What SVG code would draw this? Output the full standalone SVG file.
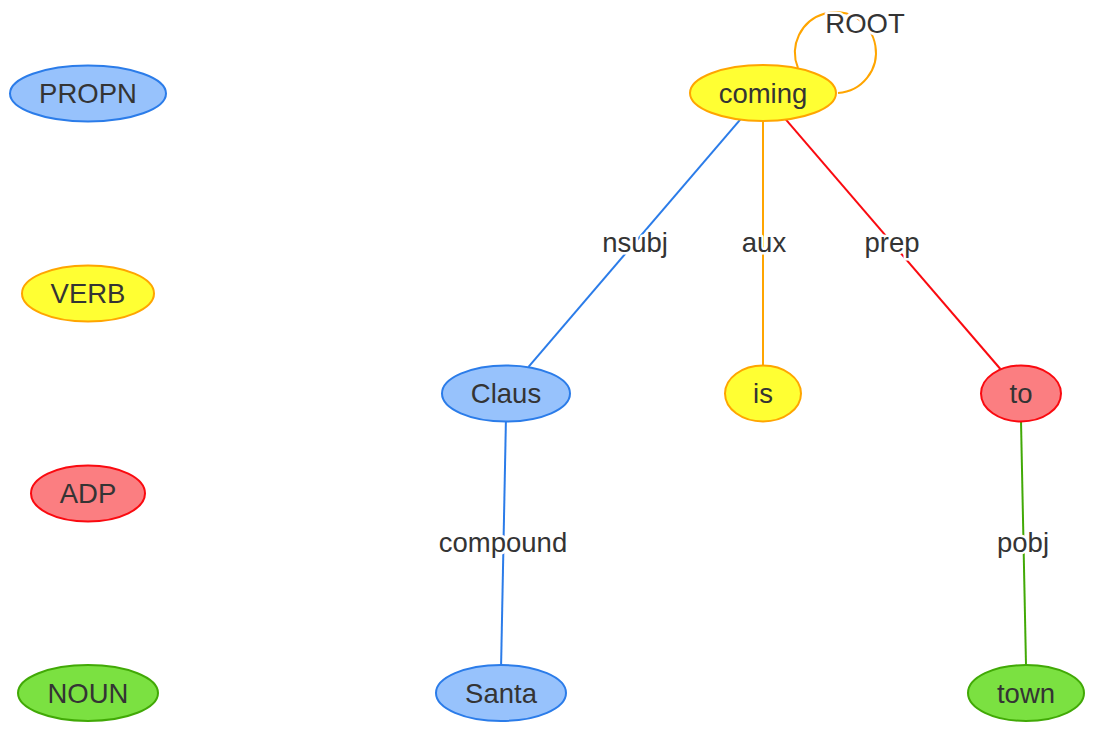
<svg xmlns="http://www.w3.org/2000/svg" width="1102" height="732" viewBox="0 0 1102 732">
<style>
text{font-family:"Liberation Sans",Arial,sans-serif;font-size:27.5px;fill:#343434;text-anchor:middle}
.lbl{stroke:#ffffff;stroke-width:5px;paint-order:stroke;stroke-linejoin:round}
.edge{fill:none;stroke-width:2}
.blue{fill:#97C2FC;stroke:#2B7CE9;stroke-width:2}
.yellow{fill:#FFFF33;stroke:#FFA500;stroke-width:2}
.red{fill:#FB7E81;stroke:#FA0A10;stroke-width:2}
.green{fill:#7BE141;stroke:#41A906;stroke-width:2}
</style>
<rect width="1102" height="732" fill="#ffffff"/>
<g id="connectors">
<g id="e-root"><path class="edge" stroke="#FFA500" d="M 798 68 A 40.5 40.5 0 1 1 838 93"/><text class="lbl" x="865" y="33">ROOT</text></g>
<g id="e-nsubj"><line class="edge" stroke="#2B7CE9" x1="740.2" y1="119.6" x2="528.5" y2="366.8"/><text class="lbl" x="635" y="252">nsubj</text></g>
<g id="e-aux"><line class="edge" stroke="#FFA500" x1="763" y1="121" x2="763" y2="365"/><text class="lbl" x="764" y="252">aux</text></g>
<g id="e-prep"><line class="edge" stroke="#FA0A10" x1="785.5" y1="119.2" x2="1000.4" y2="369"/><text class="lbl" x="892" y="252">prep</text></g>
<g id="e-compound"><line class="edge" stroke="#2B7CE9" x1="505.9" y1="421" x2="501.1" y2="665"/><text class="lbl" x="503" y="552">compound</text></g>
<g id="e-pobj"><line class="edge" stroke="#41A906" x1="1021" y1="421" x2="1026" y2="665"/><text class="lbl" x="1023" y="552">pobj</text></g>
</g>
<g id="legend-PROPN"><ellipse class="blue" cx="88" cy="93.5" rx="78" ry="28"/><text x="88" y="103">PROPN</text></g>
<g id="legend-VERB"><ellipse class="yellow" cx="88" cy="293.5" rx="66" ry="28"/><text x="88" y="303">VERB</text></g>
<g id="legend-ADP"><ellipse class="red" cx="88" cy="493.5" rx="57" ry="28"/><text x="88" y="503">ADP</text></g>
<g id="legend-NOUN"><ellipse class="green" cx="88" cy="693" rx="70" ry="28"/><text x="88" y="703">NOUN</text></g>
<g id="node-coming"><ellipse class="yellow" cx="763" cy="93" rx="73" ry="28"/><text x="763" y="102.5">coming</text></g>
<g id="node-Claus"><ellipse class="blue" cx="506" cy="393.5" rx="64" ry="28"/><text x="506" y="403">Claus</text></g>
<g id="node-is"><ellipse class="yellow" cx="763" cy="393.5" rx="38" ry="28"/><text x="763" y="403">is</text></g>
<g id="node-to"><ellipse class="red" cx="1021" cy="393.5" rx="40" ry="28"/><text x="1021" y="403">to</text></g>
<g id="node-Santa"><ellipse class="blue" cx="501" cy="693" rx="65" ry="28"/><text x="501" y="703">Santa</text></g>
<g id="node-town"><ellipse class="green" cx="1026" cy="693" rx="58" ry="28"/><text x="1026" y="703">town</text></g>
</svg>
